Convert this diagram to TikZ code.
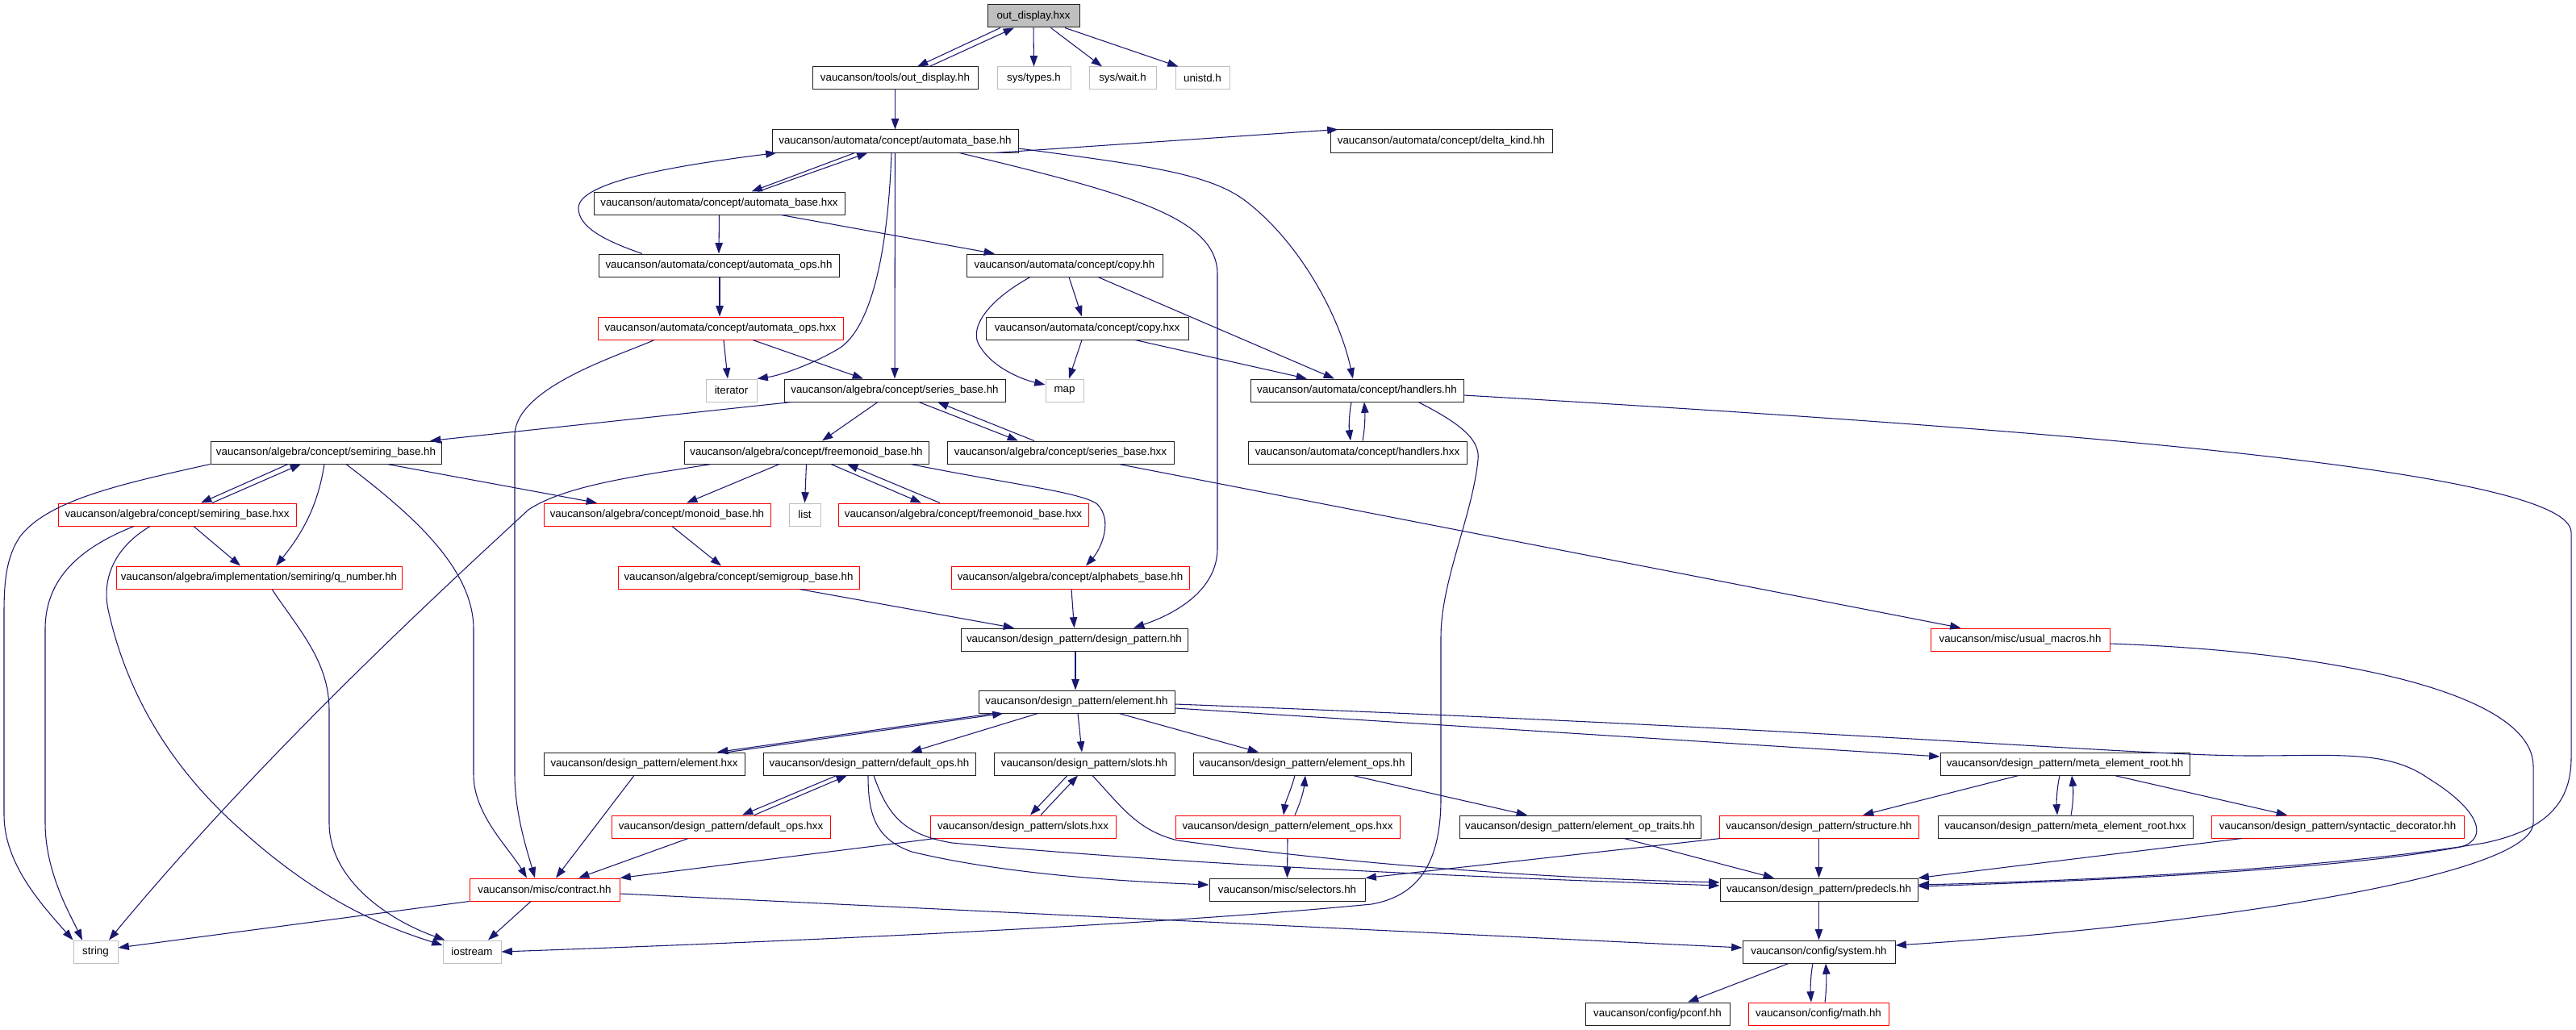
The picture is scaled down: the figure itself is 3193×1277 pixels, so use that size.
\documentclass[tikz,border=0pt]{standalone}
\usepackage{fontspec}
\setmainfont{Liberation Sans}
\usetikzlibrary{arrows.meta,calc}
\definecolor{edgeblue}{HTML}{191970}
\definecolor{nodegrey}{HTML}{BFBFBF}
\definecolor{nodeborder}{HTML}{202020}
\tikzset{
  nd/.style={draw=nodeborder, line width=0.75pt, inner sep=0pt, minimum height=21pt,
    font=\fontsize{10pt}{12pt}\selectfont, text=black, fill=white},
  ndred/.style={nd, draw=red},
  ndext/.style={nd, draw=nodegrey},
  ndroot/.style={nd, fill=nodegrey},
  dep/.style={draw=edgeblue, line width=0.8pt, -{Triangle[length=10pt,width=7pt]}},
}
\newcommand\gn[6]{\node[#1,minimum width={#4*0.75pt}] (#2) at (#3,#5) {#6};}
\begin{document}
\begin{tikzpicture}[x=0.75pt,y=-0.75pt]
\fill[white] (0,0) rectangle (3193,1277);
\useasboundingbox (0,0) rectangle (3193,1277);
% nodes
\gn{ndroot}{outdisp}{1281}{114}{20}{out\_display.hxx}
\gn{nd}{tools}{1109.5}{205}{97}{vaucanson/tools/out\_display.hh}
\gn{ndext}{types}{1281.5}{91}{97}{sys/types.h}
\gn{ndext}{wait}{1391.5}{83}{97}{sys/wait.h}
\gn{ndext}{unistd}{1490.5}{67}{97}{unistd.h}
\gn{nd}{abase}{1109.5}{305}{175}{vaucanson/automata/concept/automata\_base.hh}
\gn{nd}{delta}{1786.5}{275}{175}{vaucanson/automata/concept/delta\_kind.hh}
\gn{nd}{abasehxx}{891.5}{311}{252}{vaucanson/automata/concept/automata\_base.hxx}
\gn{nd}{aops}{891}{298}{329}{vaucanson/automata/concept/automata\_ops.hh}
\gn{nd}{copy}{1319.5}{243}{329}{vaucanson/automata/concept/copy.hh}
\gn{ndred}{aopshxx}{893}{304}{407}{vaucanson/automata/concept/automata\_ops.hxx}
\gn{nd}{copyhxx}{1347.5}{251}{407}{vaucanson/automata/concept/copy.hxx}
\gn{ndext}{iterator}{906.5}{63}{484}{iterator}
\gn{nd}{sbase}{1109}{274}{484}{vaucanson/algebra/concept/series\_base.hh}
\gn{ndext}{map}{1319.5}{47}{484}{map}
\gn{nd}{handlers}{1682}{264}{484}{vaucanson/automata/concept/handlers.hh}
\gn{nd}{srbase}{404}{286}{561}{vaucanson/algebra/concept/semiring\_base.hh}
\gn{nd}{fmbase}{999.5}{303}{561}{vaucanson/algebra/concept/freemonoid\_base.hh}
\gn{nd}{sbasehxx}{1314.5}{281}{561}{vaucanson/algebra/concept/series\_base.hxx}
\gn{nd}{handlershxx}{1682.5}{271}{561}{vaucanson/automata/concept/handlers.hxx}
\gn{ndred}{srbasehxx}{219.5}{295}{638}{vaucanson/algebra/concept/semiring\_base.hxx}
\gn{ndred}{mbase}{814.5}{281}{638}{vaucanson/algebra/concept/monoid\_base.hh}
\gn{ndext}{list}{997.5}{39}{638}{list}
\gn{ndred}{fmbasehxx}{1194}{310}{638}{vaucanson/algebra/concept/freemonoid\_base.hxx}
\gn{ndred}{qnum}{321}{354}{716}{vaucanson/algebra/implementation/semiring/q\_number.hh}
\gn{ndred}{sgbase}{915.5}{299}{716}{vaucanson/algebra/concept/semigroup\_base.hh}
\gn{ndred}{alpha}{1326.5}{295}{716}{vaucanson/algebra/concept/alphabets\_base.hh}
\gn{nd}{dp}{1331.5}{281}{793}{vaucanson/design\_pattern/design\_pattern.hh}
\gn{ndred}{usual}{2504}{222}{793}{vaucanson/misc/usual\_macros.hh}
\gn{nd}{element}{1334.5}{243}{870}{vaucanson/design\_pattern/element.hh}
\gn{nd}{elemhxx}{798.5}{249}{947}{vaucanson/design\_pattern/element.hxx}
\gn{nd}{dops}{1077.5}{263}{947}{vaucanson/design\_pattern/default\_ops.hh}
\gn{nd}{slots}{1344}{224}{947}{vaucanson/design\_pattern/slots.hh}
\gn{nd}{eops}{1614}{270}{947}{vaucanson/design\_pattern/element\_ops.hh}
\gn{nd}{meta}{2559.5}{309}{947}{vaucanson/design\_pattern/meta\_element\_root.hh}
\gn{ndred}{dopshxx}{893.5}{271}{1025}{vaucanson/design\_pattern/default\_ops.hxx}
\gn{ndred}{slotshxx}{1268}{230}{1025}{vaucanson/design\_pattern/slots.hxx}
\gn{ndred}{eopshxx}{1596}{278}{1025}{vaucanson/design\_pattern/element\_ops.hxx}
\gn{nd}{traits}{1958.5}{299}{1025}{vaucanson/design\_pattern/element\_op\_traits.hh}
\gn{ndred}{structure}{2254.5}{247}{1025}{vaucanson/design\_pattern/structure.hh}
\gn{nd}{metahxx}{2560}{316}{1025}{vaucanson/design\_pattern/meta\_element\_root.hxx}
\gn{ndred}{syntactic}{2897.5}{313}{1025}{vaucanson/design\_pattern/syntactic\_decorator.hh}
\gn{ndred}{contract}{675}{186}{1103}{vaucanson/misc/contract.hh}
\gn{nd}{selectors}{1595.5}{193}{1103}{vaucanson/misc/selectors.hh}
\gn{nd}{predecls}{2254.5}{245}{1103}{vaucanson/design\_pattern/predecls.hh}
\gn{ndext}{string}{118.5}{55}{1180}{string}
\gn{ndext}{iostream}{585}{72}{1180}{iostream}
\gn{nd}{system}{2254.5}{189}{1180}{vaucanson/config/system.hh}
\gn{nd}{pconf}{2054.5}{179}{1257}{vaucanson/config/pconf.hh}
\gn{ndred}{math}{2254}{174}{1257}{vaucanson/config/math.hh}
% edges
\draw[dep] ($(outdisp.south)+(-41,0)$) -- ($(tools.north)+(27.5,0)$);
\draw[dep] ($(tools.north)+(42.5,0)$) -- ($(outdisp.south)+(-24,0)$);
\draw[dep] (outdisp.south) -- (types.north);
\draw[dep] ($(outdisp.south)+(21.5,0)$) -- ($(wait.north)+(-25.5,0)$);
\draw[dep] ($(outdisp.south)+(39,0)$) -- ($(unistd.north west)+(4,0)$);
\draw[dep] (tools.south) -- (abase.north);
\draw[dep] ($(abase.south)+(-50,0)$) -- ($(abasehxx.north)+(40,0)$);
\draw[dep] ($(abasehxx.north)+(48,0)$) -- ($(abase.south)+(-34,0)$);
\draw[dep] ($(aops.north)+(-95,0)$) .. controls (745,297) and (717,280) .. (717,258) .. controls (717,225) and (840,205) .. ($(abase.south west)+(6,0)$);
\draw[dep] ($(abase.south)+(123.5,0)$) -- ($(delta.north west)+(10,0)$);
\draw[dep] ($(abase.east)+(0,9)$) .. controls (1420,205) and (1500,215) .. (1545,250) .. controls (1610,300) and (1660,390) .. ($(handlers.north)+(-5,0)$);
\draw[dep] ($(abase.south)+(79.5,0)$) .. controls (1400,240) and (1509,270) .. (1509,340) -- (1509,680) .. controls (1509,730) and (1460,760) .. ($(dp.north)+(73.5,0)$);
\draw[dep] (abase.south) -- (sbase.north);
\draw[dep] ($(abase.south)+(-4.5,0)$) .. controls (1100,330) and (1075,410) .. (1040,432) .. controls (1010,450) and (970,465) .. (iterator.north east);
\draw[dep] (abasehxx.south) -- (aops.north);
\draw[dep] ($(abasehxx.south)+(76.5,0)$) -- ($(copy.north)+(-86.5,0)$);
\draw[dep] ($(aops.south)+(1,0)$) -- ($(aopshxx.north)+(-1,0)$);
\draw[dep] ($(aopshxx.south)+(-82,0)$) .. controls (770,440) and (638,480) .. (638,540) -- (638,960) .. controls (638,1010) and (655,1060) .. ($(contract.north)+(-12,0)$);
\draw[dep] ($(aopshxx.south)+(4,0)$) -- ($(iterator.north)+(-4.5,0)$);
\draw[dep] ($(aopshxx.south)+(40,0)$) -- ($(sbase.north)+(-39,0)$);
\draw[dep] ($(copy.south)+(-42.5,0)$) .. controls (1220,375) and (1200,410) .. (1215,430) .. controls (1230,455) and (1265,470) .. ($(map.west)+(0,-7)$);
\draw[dep] ($(copy.south)+(5.5,0)$) -- ($(copyhxx.north)+(-6.5,0)$);
\draw[dep] ($(copy.south)+(41.5,0)$) -- ($(handlers.north)+(-28,0)$);
\draw[dep] ($(copyhxx.south)+(-6.5,0)$) -- ($(map.north)+(5.5,0)$);
\draw[dep] ($(copyhxx.south)+(59.5,0)$) -- ($(handlers.north)+(-62,0)$);
\draw[dep] ($(sbase.south)+(-128,0)$) -- ($(srbase.north)+(129,0)$);
\draw[dep] ($(sbase.south)+(-21,0)$) -- ($(fmbase.north)+(19.5,0)$);
\draw[dep] ($(sbase.south)+(30,0)$) -- ($(sbasehxx.north)+(-52.5,0)$);
\draw[dep] ($(sbasehxx.north)+(-32.5,0)$) -- ($(sbase.south)+(53,0)$);
\draw[dep] (srbase.south west) .. controls (150,600) and (60,620) .. (25,665) .. controls (8,690) and (5,720) .. (5,760) -- (5,1010) .. controls (5,1070) and (50,1120) .. (string.north west);
\draw[dep] ($(srbasehxx.south)+(-53.5,0)$) .. controls (110,675) and (56,710) .. (56,780) -- (56,1020) .. controls (56,1080) and (85,1130) .. ($(string.north)+(-16.5,0)$);
\draw[dep] ($(fmbase.south west)+(34,0)$) .. controls (790,590) and (700,602) .. (655,632) .. controls (560,720) and (330,930) .. ($(string.north)+(16.5,0)$);
\draw[dep] ($(srbase.south)+(-47,0)$) -- ($(srbasehxx.north)+(29.5,0)$);
\draw[dep] ($(srbasehxx.north)+(43.5,0)$) -- ($(srbase.south)+(-31,0)$);
\draw[dep] ($(srbasehxx.south)+(20.5,0)$) -- ($(qnum.north)+(-23,0)$);
\draw[dep] ($(srbase.south)+(-2,0)$) .. controls (395,620) and (380,655) .. ($(qnum.north)+(21,0)$);
\draw[dep] ($(srbase.south)+(76,0)$) -- ($(mbase.north)+(-74.5,0)$);
\draw[dep] ($(qnum.south)+(16,0)$) .. controls (370,780) and (408,820) .. (408,880) -- (408,1020) .. controls (408,1090) and (480,1140) .. ($(iostream.north west)+(3,0)$);
\draw[dep] ($(srbasehxx.south)+(-33.5,0)$) .. controls (140,680) and (125,720) .. (135,760) .. controls (160,870) and (220,960) .. (300,1030) .. controls (400,1120) and (480,1150) .. ($(iostream.west)+(0,-8)$);
\draw[dep] ($(mbase.south)+(18.5,0)$) -- ($(sgbase.north)+(-21.5,0)$);
\draw[dep] ($(fmbase.south)+(-33.5,0)$) -- ($(mbase.north)+(36.5,0)$);
\draw[dep] (fmbase.south) -- (list.north);
\draw[dep] ($(fmbase.south)+(30.5,0)$) -- ($(fmbasehxx.north)+(-52,0)$);
\draw[dep] ($(fmbasehxx.north)+(-29,0)$) -- ($(fmbase.south)+(50.5,0)$);
\draw[dep] ($(fmbase.south)+(129.5,0)$) .. controls (1250,600) and (1340,610) .. (1360,625) .. controls (1380,645) and (1365,680) .. ($(alpha.north)+(19.5,0)$);
\draw[dep] ($(sgbase.south)+(75.5,0)$) -- ($(dp.north)+(-74.5,0)$);
\draw[dep] ($(alpha.south)+(1.5,0)$) -- (dp.north);
\draw[dep] ($(dp.south)+(1.5,0)$) -- ($(element.north)+(-1.5,0)$);
\draw[dep] ($(sbasehxx.south)+(72.5,0)$) -- ($(usual.north west)+(38,0)$);
\draw[dep] ($(usual.east)+(0,5)$) .. controls (2900,808) and (3140,860) .. (3140,950) -- (3140,1020) .. controls (3140,1090) and (2700,1150) .. ($(system.east)+(0,-8)$);
\draw[dep] ($(handlers.east)+(0,6)$) .. controls (2500,530) and (3187,580) .. (3187,660) -- (3187,940) .. controls (3187,1000) and (3150,1030) .. (3080,1045) .. controls (2900,1075) and (2600,1092) .. ($(predecls.east)+(0,-6)$);
\draw[dep] ($(handlers.south)+(-7,0)$) .. controls (1672,515) and (1672,530) .. ($(handlershxx.north)+(-8.5,0)$);
\draw[dep] ($(handlershxx.north)+(6.5,0)$) .. controls (1692,530) and (1692,515) .. ($(handlers.south)+(9,0)$);
\draw[dep] ($(handlers.south)+(76,0)$) .. controls (1810,525) and (1835,545) .. (1832,570) .. controls (1825,640) and (1786,720) .. (1786,790) -- (1786,990) .. controls (1786,1080) and (1750,1112) .. (1700,1121) .. controls (1400,1150) and (900,1170) .. (iostream.east);
% element level
\draw[dep] ($(element.south west)+(19,0)$) -- ($(elemhxx.north)+(90.5,0)$);
\draw[dep] ($(elemhxx.north)+(103.5,0)$) -- ($(element.south west)+(31,0)$);
\draw[dep] ($(element.south west)+(74,0)$) -- ($(dops.north)+(51.5,0)$);
\draw[dep] ($(element.south)+(1.5,0)$) -- ($(slots.north)+(-3,0)$);
\draw[dep] ($(element.south)+(52.5,0)$) -- ($(eops.north)+(-54,0)$);
\draw[dep] ($(element.east)+(0,8)$) -- ($(meta.west)+(0,-9)$);
\draw[dep] ($(element.east)+(0,3)$) .. controls (2300,905) and (2650,937) .. (2790,937) .. controls (2900,937) and (2960,930) .. (3010,965) .. controls (3075,1005) and (3085,1040) .. (3050,1050) .. controls (2900,1078) and (2600,1092) .. ($(predecls.east)+(0,-4)$);
\draw[dep] ($(dops.south)+(-40.5,0)$) -- ($(dopshxx.north)+(26.5,0)$);
\draw[dep] ($(dopshxx.north)+(41.5,0)$) -- ($(dops.south)+(-27.5,0)$);
\draw[dep] ($(dops.south)+(-1.5,0)$) .. controls (1076,1010) and (1085,1040) .. (1130,1056) .. controls (1250,1085) and (1400,1093) .. ($(selectors.west)+(0,-6)$);
\draw[dep] ($(dops.south)+(5.5,0)$) .. controls (1100,1010) and (1120,1035) .. (1180,1045) .. controls (1500,1075) and (1900,1090) .. ($(predecls.west)+(0,-5)$);
\draw[dep] ($(slots.south)+(-21,0)$) -- ($(slotshxx.north)+(9,0)$);
\draw[dep] ($(slotshxx.north)+(22,0)$) -- ($(slots.south)+(-8,0)$);
\draw[dep] ($(slots.south)+(10,0)$) .. controls (1390,1000) and (1410,1030) .. (1460,1042) .. controls (1700,1075) and (1950,1090) .. ($(predecls.west)+(0,-9)$);
\draw[dep] ($(slotshxx.south west)+(7,0)$) -- (contract.north east);
\draw[dep] ($(dopshxx.south)+(-40.5,0)$) -- ($(contract.north)+(42,0)$);
\draw[dep] ($(elemhxx.south)+(-12.5,0)$) -- ($(contract.north)+(14,0)$);
\draw[dep] ($(srbase.south)+(25,0)$) .. controls (500,630) and (587,700) .. (587,780) -- (587,960) .. controls (587,1010) and (630,1050) .. ($(contract.north)+(-22,0)$);
\draw[dep] (contract.south west) -- ($(string.east)+(0,-5)$);
\draw[dep] ($(contract.south)+(-17,0)$) -- ($(iostream.north)+(20,0)$);
\draw[dep] ($(contract.east)+(0,5)$) -- ($(system.west)+(0,-5)$);
\draw[dep] ($(eops.south)+(-9,0)$) .. controls (1600,980) and (1593,995) .. ($(eopshxx.north)+(-5,0)$);
\draw[dep] ($(eopshxx.north)+(9,0)$) .. controls (1612,995) and (1616,980) .. ($(eops.south)+(4,0)$);
\draw[dep] (eopshxx.south) -- (selectors.north);
\draw[dep] ($(eops.south)+(63,0)$) -- ($(traits.north)+(-65.5,0)$);
\draw[dep] ($(traits.south)+(54.5,0)$) -- ($(predecls.north)+(-55.5,0)$);
\draw[dep] (structure.south) -- (predecls.north);
\draw[dep] ($(structure.south west)+(2,0)$) -- (selectors.north east);
\draw[dep] ($(meta.south)+(-57.5,0)$) -- ($(structure.north)+(54.5,0)$);
\draw[dep] ($(meta.south)+(-6.5,0)$) .. controls (2549,980) and (2549,995) .. ($(metahxx.north)+(-10,0)$);
\draw[dep] ($(metahxx.north)+(7,0)$) .. controls (2570,995) and (2570,980) .. ($(meta.south)+(8.5,0)$);
\draw[dep] ($(meta.south)+(61.5,0)$) -- ($(syntactic.north)+(-62.5,0)$);
\draw[dep] ($(syntactic.south west)+(38,0)$) -- (predecls.north east);
\draw[dep] (predecls.south) -- (system.north);
\draw[dep] ($(system.south)+(-37.5,0)$) -- ($(pconf.north)+(37.5,0)$);
\draw[dep] ($(system.south)+(-7.5,0)$) .. controls (2244,1210) and (2244,1228) .. ($(math.north)+(-9,0)$);
\draw[dep] ($(math.north)+(8,0)$) .. controls (2264,1228) and (2264,1210) .. ($(system.south)+(8.5,0)$);
\end{tikzpicture}
\end{document}
